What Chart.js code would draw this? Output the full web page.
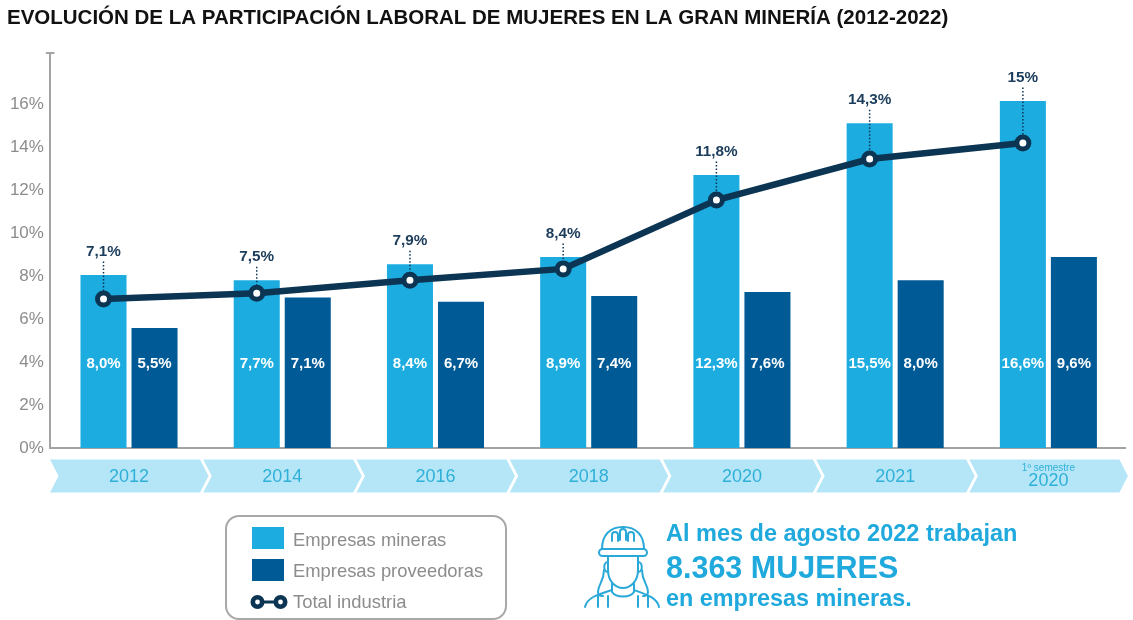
<!DOCTYPE html>
<html lang="es">
<head>
<meta charset="utf-8">
<script src="https://cdn.jsdelivr.net/npm/chart.js@4"></script>
<style>
html,body{margin:0;padding:0;background:#fff;overflow:hidden}
#wrap{position:relative;width:1133px;height:620px;font-family:"Liberation Sans",Arial,sans-serif}
canvas{position:absolute;left:0;top:0}
.t{position:absolute;left:666px;white-space:nowrap;font-weight:bold;color:#1fa9dc;line-height:1}
svg{position:absolute;left:0;top:0;pointer-events:none}
</style>
</head>
<body>
<div id="wrap">
<canvas id="c" width="1133" height="620"></canvas>
<svg width="1133" height="620" fill="none" stroke="#2aa9d8" stroke-width="2" stroke-linecap="round" stroke-linejoin="round">
<rect x="599" y="549" width="48" height="7" rx="3.5"/>
<path d="M602 549C602 535 610 527 623 527C636 527 644 535 644 549"/>
<path d="M612 541V535a3 3 0 0 1 6 0V541M620 540V532a3 3 0 0 1 6 0V540M628 541V535a3 3 0 0 1 6 0V541"/>
<path d="M608 556V570C608 582 616 588 623 588C630 588 638 582 638 570V556"/>
<path d="M608 562C603 562 603 572 608 572M638 562C643 562 643 572 638 572"/>
<path d="M604 570C604 582 598 584 598 592C598 595 600 596 603 596M642 570C642 582 648 584 648 592C648 595 646 596 643 596"/>
<path d="M612 584V592C616 598 630 598 634 592V584"/>
<path d="M585 607C587 598 596 595 612 590M659 607C657 598 648 595 634 590"/>
<path d="M598 607V596M608 607V596M638 607V596M648 607V596"/>
</svg>
<div class="t" id="t1" style="top:522px;font-size:23.5px"></div>
<div class="t" id="t2" style="top:552px;font-size:30.5px"></div>
<div class="t" id="t3" style="top:587px;font-size:23.4px"></div>
</div>
<script>
const titleText = "EVOLUCIÓN DE LA PARTICIPACIÓN LABORAL DE MUJERES EN LA GRAN MINERÍA (2012-2022)";
const categories = ["2012","2014","2016","2018","2020","2021","2020"];
const mineras = [8.05,7.8,8.55,8.88,12.7,15.1,16.14];
const proveedoras = [5.58,7.0,6.8,7.07,7.25,7.8,8.88];
const totalIndustria = [6.93,7.2,7.8,8.33,11.53,13.44,14.18];
const minerasLabels = ["8,0%","7,7%","8,4%","8,9%","12,3%","15,5%","16,6%"];
const proveedorasLabels = ["5,5%","7,1%","6,7%","7,4%","7,6%","8,0%","9,6%"];
const totalLabels = ["7,1%","7,5%","7,9%","8,4%","11,8%","14,3%","15%"];
const legendNames = ["Empresas mineras","Empresas proveedoras","Total industria"];
const calloutLines = ["Al mes de agosto 2022 trabajan","8.363 MUJERES","en empresas mineras."];
const lastCategoryNote = "1º semestre";

const C_MIN="#1cace0", C_PROV="#005a96", C_LINE="#0c3554", C_AXIS="#a3a3a3", C_TICK="#8c8c8c", C_CHEV="#b5e6f7", C_CHEVTXT="#2fb0d8";

["t1","t2","t3"].forEach((id,i)=>document.getElementById(id).textContent=calloutLines[i]);

const decor = {
  id:"decor",
  afterDatasetsUpdate(chart){
    const bars=chart.getDatasetMeta(0).data;
    chart.getDatasetMeta(2).data.forEach((p,i)=>{p.x=bars[i].x;});
  },
  beforeDraw(chart){
    const {ctx,chartArea:a,scales:{x,y}}=chart;
    ctx.save();
    ctx.fillStyle=C_CHEV;
    const top=459.5,bot=492.5,mid=(top+bot)/2;
    categories.forEach((_,i)=>{
      const c=x.getPixelForTick(i);
      ctx.beginPath();
      ctx.moveTo(c-79,top);ctx.lineTo(c+71,top);ctx.lineTo(c+79.5,mid);ctx.lineTo(c+71,bot);
      ctx.lineTo(c-79,bot);ctx.lineTo(c-70.5,mid);ctx.closePath();ctx.fill();
    });
    ctx.strokeStyle=C_AXIS;ctx.lineWidth=2;
    ctx.beginPath();
    ctx.moveTo(a.left-2.4,a.top);ctx.lineTo(a.left-2.4,a.bottom+1);
    ctx.moveTo(a.left-6.5,a.top);ctx.lineTo(a.left+2,a.top);
    ctx.stroke();
    ctx.restore();
  },
  afterDraw(chart){
    const {ctx,scales:{x,y}}=chart;
    const m0=chart.getDatasetMeta(0).data,m1=chart.getDatasetMeta(1).data,ml=chart.getDatasetMeta(2).data;
    ctx.save();
    ctx.textAlign="center";ctx.textBaseline="middle";
    ctx.font='bold 15px "Liberation Sans"';ctx.fillStyle="#fff";
    const yIn=y.getPixelForValue(3.9);
    m0.forEach((b,i)=>ctx.fillText(minerasLabels[i],b.x,yIn));
    m1.forEach((b,i)=>ctx.fillText(proveedorasLabels[i],b.x,yIn));
    ml.forEach((p,i)=>{
      const ly=m0[i].y-23.5;
      ctx.strokeStyle=C_LINE;ctx.lineWidth=1.5;ctx.setLineDash([1.5,2]);
      ctx.beginPath();ctx.moveTo(p.x,ly+10);ctx.lineTo(p.x,p.y-8);ctx.stroke();
      ctx.setLineDash([]);
      ctx.fillStyle="#1b3c5a";ctx.font='bold 15.3px "Liberation Sans"';
      ctx.fillText(totalLabels[i],p.x,ly);
    });
    ctx.fillStyle=C_CHEVTXT;ctx.font='10px "Liberation Sans"';
    ctx.fillText(lastCategoryNote,x.getPixelForTick(6),468);
    ctx.strokeStyle="#a8a8a8";ctx.lineWidth=2;
    ctx.beginPath();ctx.roundRect(226,516,280,103,13);ctx.stroke();
    ctx.fillStyle=C_MIN;ctx.fillRect(252,527,32,22);
    ctx.fillStyle=C_PROV;ctx.fillRect(252,559,32,22);
    ctx.strokeStyle=C_LINE;ctx.lineWidth=3;
    ctx.beginPath();ctx.moveTo(256,602);ctx.lineTo(281,602);ctx.stroke();
    [257.5,280.5].forEach(cx=>{ctx.beginPath();ctx.arc(cx,602,4.7,0,Math.PI*2);ctx.fillStyle="#fff";ctx.fill();ctx.lineWidth=4.6;ctx.stroke();});
    ctx.fillStyle=C_TICK;ctx.textAlign="left";ctx.textBaseline="alphabetic";
    ctx.font='18.4px "Liberation Sans"';
    ctx.fillText(legendNames[0],293,546);ctx.fillText(legendNames[1],293,577);ctx.fillText(legendNames[2],293,608);
    ctx.restore();
  }
};

new Chart(document.getElementById("c"),{
  data:{
    labels:categories,
    datasets:[
      {type:"bar",label:legendNames[0],data:mineras,backgroundColor:C_MIN,categoryPercentage:0.666,barPercentage:0.902,order:2},
      {type:"bar",label:legendNames[1],data:proveedoras,backgroundColor:C_PROV,categoryPercentage:0.666,barPercentage:0.902,order:2},
      {type:"line",label:legendNames[2],data:totalIndustria,
       borderColor:C_LINE,borderWidth:6.5,pointBackgroundColor:"#fff",pointBorderColor:C_LINE,pointBorderWidth:5,pointRadius:6,tension:0,order:1}
    ]
  },
  options:{
    responsive:false,animation:false,
    layout:{autoPadding:false,padding:{left:7,right:8,top:0,bottom:0}},
    plugins:{
      legend:{display:false},tooltip:{enabled:false},
      title:{display:true,text:titleText,align:"start",color:"#111",
        font:{family:"Liberation Sans",size:20.5,weight:"bold",lineHeight:1.2},padding:{top:6,bottom:22.4}}
    },
    scales:{
      x:{type:"category",grid:{display:false,drawTicks:false},
        border:{display:true,color:C_AXIS,width:2},
        afterFit(s){s.height=172;},
        ticks:{padding:18,color:C_CHEVTXT,maxRotation:0,autoSkip:false,
          font:c=>c.index===6?{family:"Liberation Sans",size:18,lineHeight:"10px"}:{family:"Liberation Sans",size:18},
          callback(v,i){return i===6?["",categories[i]]:categories[i];}}},
      y:{type:"linear",min:0,max:18.37,grid:{display:false,drawTicks:false},border:{display:false},
        afterFit(s){s.width=45.4;},
        ticks:{stepSize:2,includeBounds:false,padding:8.5,color:C_TICK,font:{family:"Liberation Sans",size:17},
          callback(v){return v<=16?v+"%":"";}}}
    }
  },
  plugins:[decor]
});
</script>
</body>
</html>
